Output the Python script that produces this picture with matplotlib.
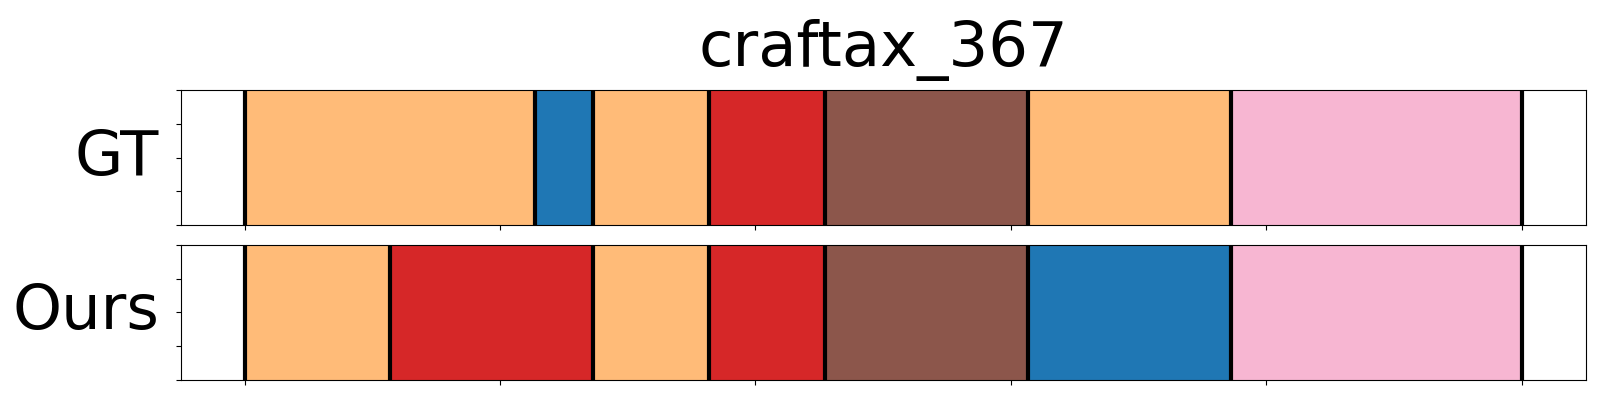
import matplotlib
matplotlib.use("Agg")
import matplotlib.pyplot as plt
import numpy as np

#segment data (lengths in steps, colours from tab20)
title = "craftax_367"
row_names = ["GT", "Ours"]
gt_lengths = [10, 2, 4, 4, 7, 7, 10]
gt_colors = ["#ffbb78", "#1f77b4", "#ffbb78", "#d62728", "#8c564b", "#ffbb78", "#f7b6d2"]
ours_lengths = [5, 7, 4, 4, 7, 7, 10]
ours_colors = ["#ffbb78", "#d62728", "#ffbb78", "#d62728", "#8c564b", "#1f77b4", "#f7b6d2"]

rows = [(gt_lengths, gt_colors), (ours_lengths, ours_colors)]

fig, axes = plt.subplots(2, 1, figsize=(16, 4), dpi=100)
plt.subplots_adjust(left=0.113, right=0.991, top=0.775, bottom=0.05, hspace=0.148)

for ax, name, (lengths, colors) in zip(axes, row_names, rows):
    lengths = np.array(lengths)
    starts = np.concatenate([[0], np.cumsum(lengths)[:-1]])
    total = lengths.sum()
    ax.bar(starts, 1, width=lengths, align='edge', color=colors, linewidth=0)
    bounds = np.concatenate([[0], np.cumsum(lengths)])
    ax.vlines(bounds, 0, 1, colors='black', linewidth=3)
    ax.set_xlim(-0.05 * total, 1.05 * total)
    ax.set_ylim(0, 1)
    ax.set_xticks(np.linspace(0, total, 6))
    ax.set_yticks(np.linspace(0, 1, 5))
    ax.set_xticklabels([])
    ax.set_yticklabels([])
    ax.set_ylabel(name, rotation=0, fontsize=45, ha='right', va='center')
    ax.yaxis.set_label_coords(-0.0155, 0.5)

axes[0].set_title(title, fontsize=45, pad=17)

plt.savefig('out.png')
plt.close()
